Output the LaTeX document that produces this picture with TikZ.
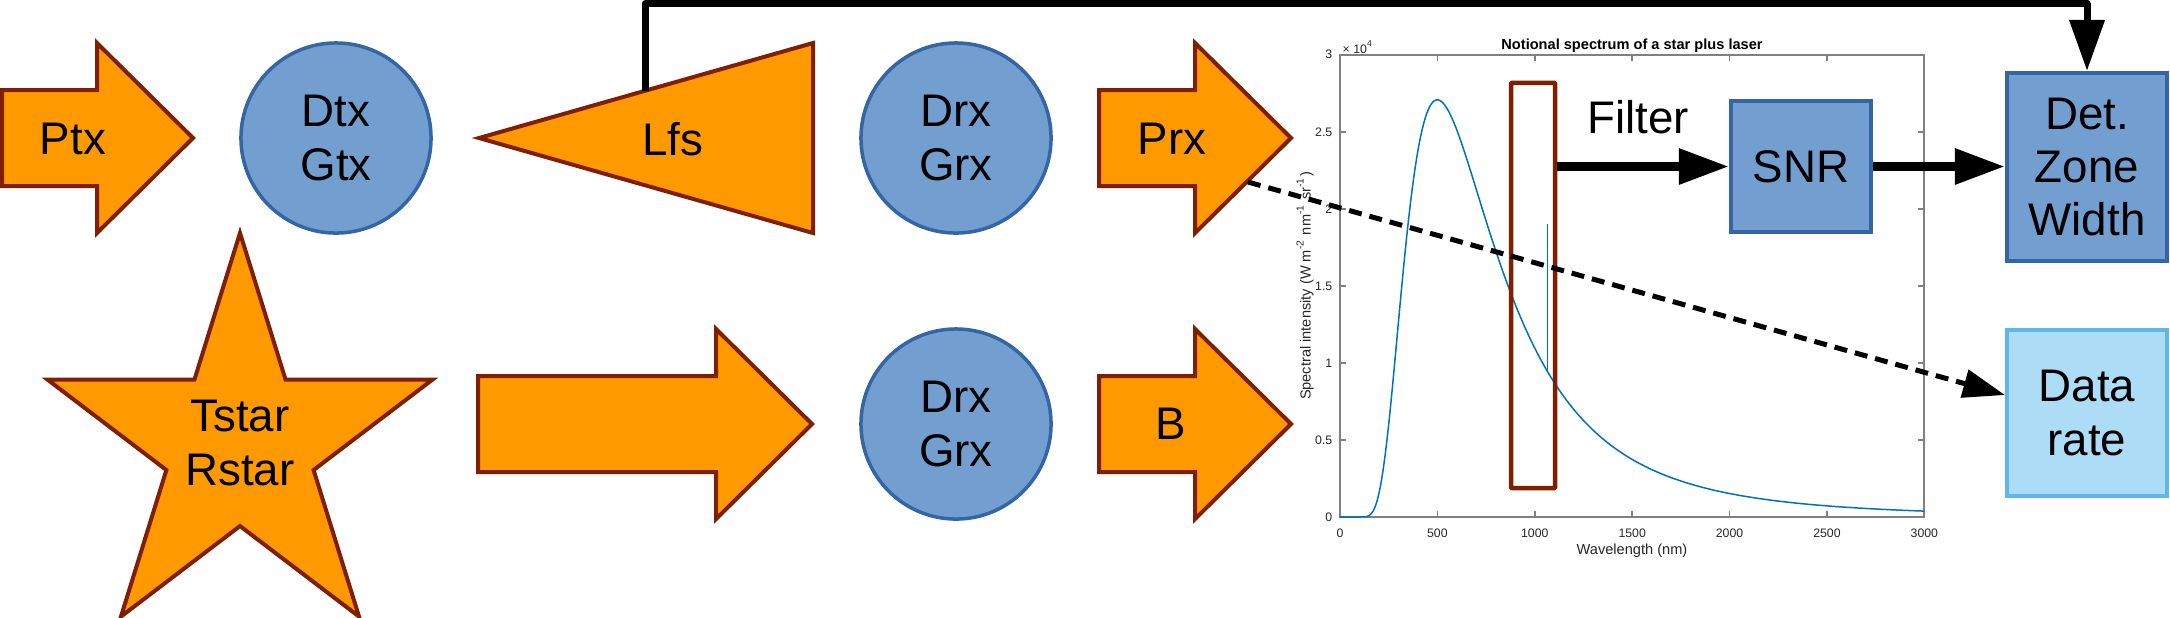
\documentclass[tikz,border=0pt]{standalone}
\usepackage{fontspec}
\setmainfont{Liberation Sans}
\usepackage{tikz}
\usetikzlibrary{arrows.meta,calc,positioning}
\usepackage{pgfplots}
\pgfplotsset{compat=1.18}
\definecolor{shapeorange}{HTML}{FF9900}
\definecolor{shapered}{HTML}{7F1F00}
\definecolor{shapeblue}{HTML}{729FCF}
\definecolor{shapeblueline}{HTML}{3465A4}
\definecolor{lightfill}{HTML}{ADDCF6}
\definecolor{lightline}{HTML}{5EB6EC}
\definecolor{matblue}{HTML}{0072BD}
\tikzset{
orangeshape/.style={draw=shapered,line width=0.04cm,fill=shapeorange},
bluecirc/.style={circle,draw=shapeblueline,line width=0.035cm,fill=shapeblue,
  minimum size=1.9cm,inner sep=0pt,align=center},
bluebox/.style={rectangle,draw=shapeblueline,line width=0.04cm,fill=shapeblue,inner sep=0pt,align=center},
databox/.style={rectangle,draw=lightline,line width=0.04cm,fill=lightfill,inner sep=0pt,align=center},
filterbox/.style={rectangle,draw=shapered,line width=0.045cm,rounded corners=0.01cm,inner sep=0pt},
fatarr/.style={line width=0.09cm,-{Triangle[length=0.5cm,width=0.34cm]}},
linkarr/.style={line width=0.07cm,line join=round,-{Triangle[length=0.51cm,width=0.34cm]}},
dasharr/.style={line width=0.05cm,dash pattern=on 0.13cm off 0.08cm,-{Triangle[length=0.42cm,width=0.28cm]}},
lbl/.style={inner sep=0pt,align=center},
plotlbl/.style={inner sep=0pt,font=\fontsize{4.15}{5}\selectfont}
}
\newcommand{\blockarrow}[2]{%
  \draw[orangeshape] ($(#1)+(0,-48)$) -- ++(#2,0) -- ++(0,-47) -- ++(96,95) -- ++(-96,95) -- ++(0,-47) -- ++(-#2,0) -- cycle;}

\begin{document}
\begin{tikzpicture}[x=0.01cm,y=-0.01cm,font=\fontsize{13}{15.1}\selectfont]
\useasboundingbox (0,0) rectangle (2170,617);
\coordinate (plotorigin) at (1340,517);
\begin{axis}[at={(plotorigin)},anchor=south west,scale only axis,width=5.84cm,height=4.62cm,
  xmin=0,xmax=3000,ymin=0,ymax=3,
  axis line style={draw=gray,line width=0.02cm},
  tick style={draw=gray,line width=0.015cm},major tick length=0.06cm,tick align=inside,
  xtick={0,500,...,3000},ytick={0,0.5,...,3},
  xticklabels={0,500,1000,1500,2000,2500,3000},
  yticklabels={0,0.5,1,1.5,2,2.5,3},
  tick label style={font=\fontsize{3.5}{4.2}\selectfont,text=black!85,inner sep=0pt},
  xticklabel style={anchor=base,yshift=-0.2cm},
  yticklabel style={anchor=east,xshift=-0.07cm}]
\addplot[matblue,line width=0.015cm] coordinates {(0,0) (20,0)};
\addplot[matblue,line width=0.015cm,domain=20:3000,samples=400] {383.9*(500/x)^5/(exp(2480.7/x)-1)};
\addplot[matblue,line width=0.015cm] coordinates {(1064,0.953) (1064,1.9)};
\end{axis}
\node[plotlbl,font=\bfseries\fontsize{4.15}{5}\selectfont,anchor=base] (ptitle) at (1632,49) {Notional spectrum of a star plus laser};
\node[plotlbl,font=\fontsize{3.5}{4.2}\selectfont,anchor=west,text=black!85] (pscale) at (1342,47) {× 10\textsuperscript{4}};
\node[plotlbl,text=black!85] (pxlabel) at (1632,551) {Wavelength (nm)};
\node[plotlbl,rotate=90,text=black!85] (pylabel) at (1305,286) {Spectral intensity (W m\textsuperscript{-2} nm\textsuperscript{-1} sr\textsuperscript{-1})};

\blockarrow{2,138}{95}
\node[lbl] (ptx) at (73,139) {Ptx};
\node[bluecirc] (dtx) at (336,138) {Dtx\\Gtx};
\draw[orangeshape] (479,138) -- (813,43) -- (813,233) -- cycle;
\node[lbl] (lfs) at (673,139) {Lfs};
\coordinate (lfstop) at ($(479,138)!0.497!(813,43)$);
\node[bluecirc] (drxa) at (956,138) {Drx\\Grx};
\blockarrow{1099,138}{96}
\node[lbl] (prx) at (1172,139) {Prx};

\draw[orangeshape] (240,233) -- (285.5,379.5) -- (432.6,379.5) -- (313.6,470) -- (359,616.5) -- (240,526)
  -- (121,616.5) -- (166.4,470) -- (47.4,379.5) -- (194.5,379.5) -- cycle;
\node[lbl] (star) at (240,443) {Tstar\\Rstar};
\blockarrow{478,424}{238}
\node[bluecirc] (drxb) at (956,424) {Drx\\Grx};
\blockarrow{1099,424}{96}
\node[lbl] (bw) at (1171,424) {B};

\node[filterbox,minimum width=0.44cm,minimum height=4.05cm] (filt) at (1533,285.5) {};
\node[lbl] (filtlbl) at (1638,117.5) {Filter};
\node[bluebox,minimum width=1.4cm,minimum height=1.31cm] (snr) at (1801,166.5) {SNR};
\node[bluebox,minimum width=1.6cm,minimum height=1.88cm] (det) at (2087,167) {Det.\\Zone\\Width};
\node[databox,minimum width=1.6cm,minimum height=1.66cm] (data) at (2087,413) {Data\\rate};

\draw[fatarr] (filt.east |- snr.west) -- (snr.west);
\draw[fatarr] (snr.east) -- (snr.east -| det.west);
\draw[linkarr] (lfstop) -- ++(0,-87) -| (det.north);
\coordinate (prxedge) at (1248,182);
\draw[dasharr] (prxedge) -- ($(data.west)+(0,-18)$);
\end{tikzpicture}
\end{document}
